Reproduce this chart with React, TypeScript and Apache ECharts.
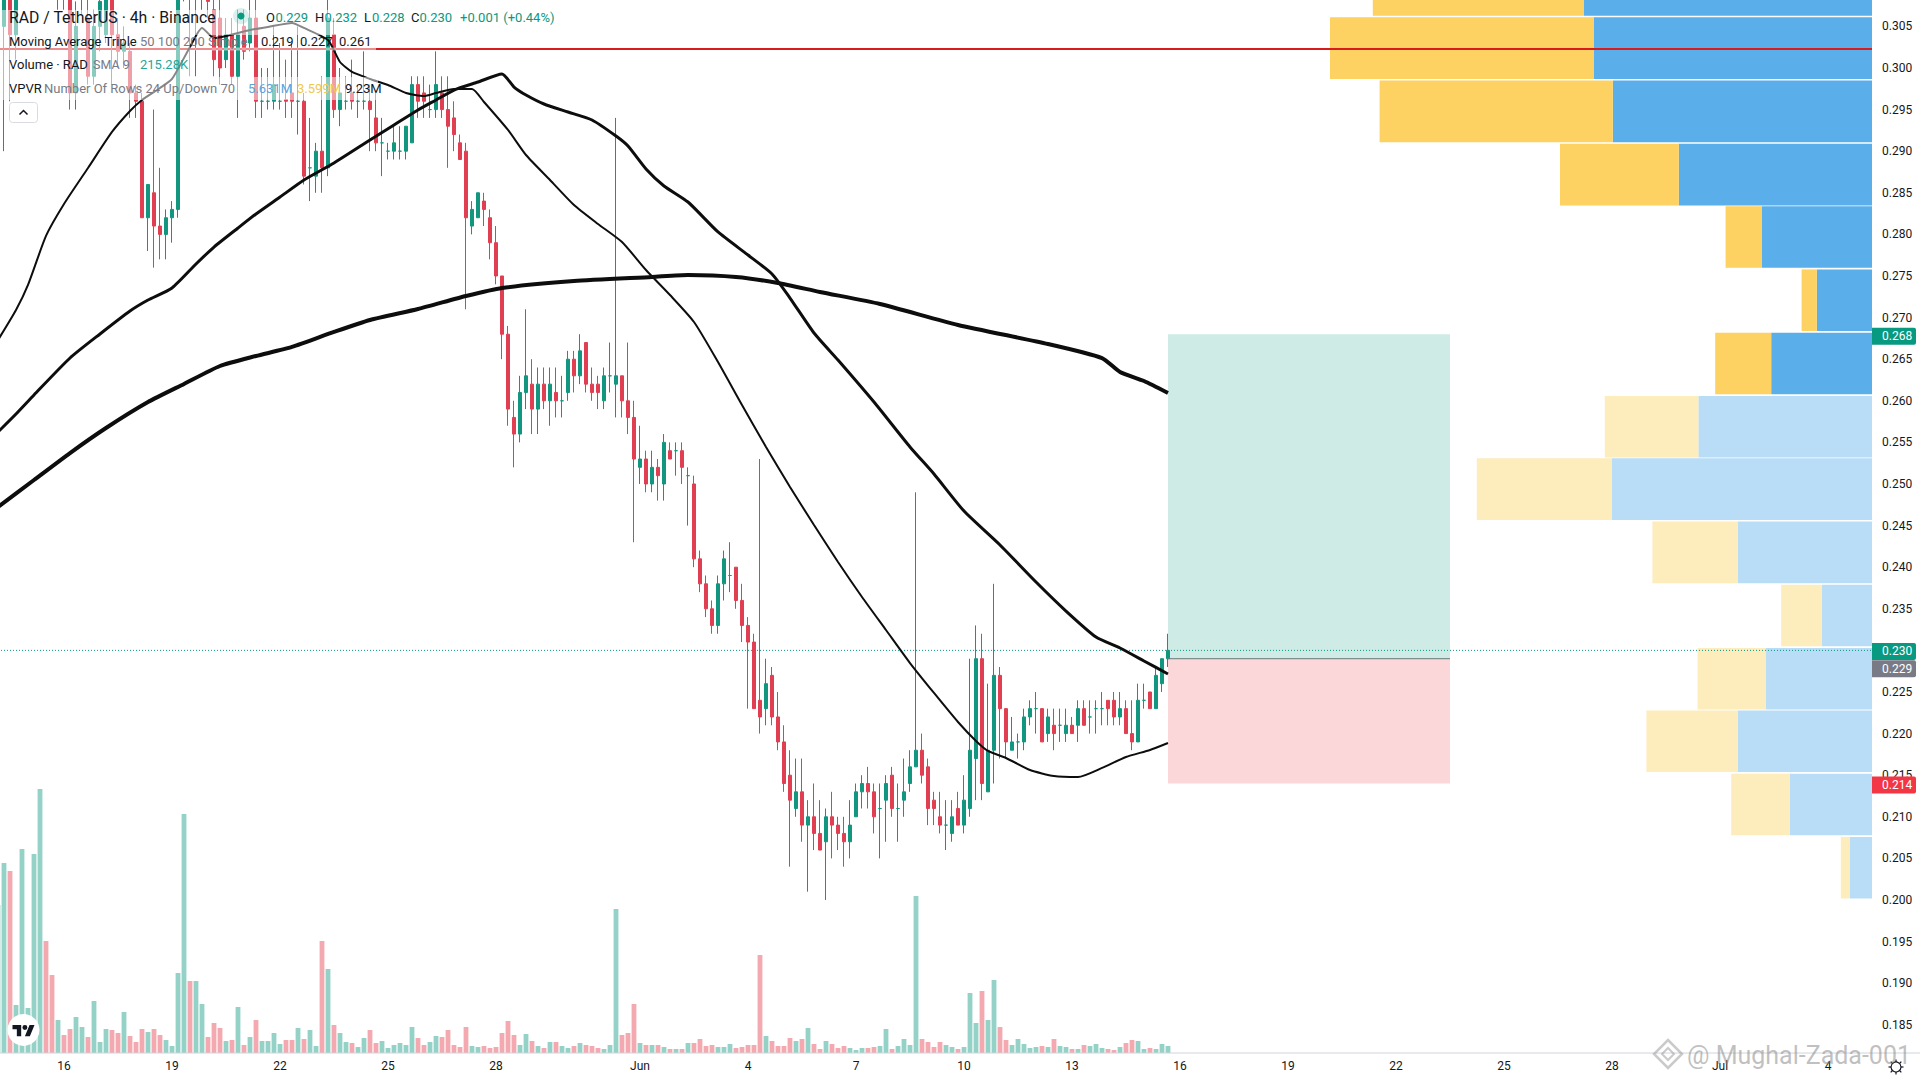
import React, { useEffect, useRef } from "react";
import * as echarts from "echarts";

// Price candles in thousandths of a USDT: [open, close, low, high]
const ohlcMilli: number[][] = [
[286,312,286,315],[305,312,290,316],[312,304,296,314],[304,310,301,312],[310,318,309,320],[318,322,316,324],[322,330,320,332],[330,345,328,350],[345,335,333,347],[335,318,316,337],
[318,325,307,327],[325,315,307,327],[315,297,295,318],[297,305,295,308],[309,312,306.5,314],[306,299,298,309],[299,305,298,307],[305,308,302,310],[304,310,303,312],[310,304,298,312],
[304,302,300,306],[302,303,300,305],[302,297,294,303],[297,296,294,298],[296,282,282,297],[282,286,278,286],[285,281,276,295],[281,280,277,288],[280,282,277,283],[282,283,279,284],
[283,312,282,313],[312,325,308,330],[325,315,299,330],[315,318,299,320],[318,320,307,325],[320,308,306,322],[307,301,299,309],[306,300,298,309],[301,304,300,306],[304,299,298,306],
[299,304,294,307],[305,302,301,307],[303,306,302,309],[306,296,294,309],[296,296,294,300],[296,296,295,300],[296,298,295,305],[296,296,295,303],[296.2,296,294,301],[297,296,294,303],
[296,296,292,305],[296,287,286,297],[288,288,284,294],[287,290,285,291],[290,288,285,299],[288,306,287,309],[304,295,294,306],[295,297,293,300],[296,296,295,299],[297,296,295,301],
[296,296,294,298],[296,296,295,302],[296,295,290,298],[294,291,290,297],[291,291,287,294],[290,290,289,291],[290,291,289,293],[290,290,289,293],[290,293,289,293],[291,298,291,299],
[298,296,294,299],[297,296,294,299],[295,295,294,298],[295,298,294,302],[297,295,294,299],[295,293,288,299],[294,292,290,296],[291,289,289,292],[290,282,271,291],[281,283,280,284],
[282,285,282,285],[284,283,281,285],[282,279,277,283],[279,275,274,281],[275,268,265,275],[268,259,257,269],[258,256,252,260],[256,261,255,263],[261,263,259,271],[262,259,256,265],
[259,262,256,264],[262,260,259,264],[260,262,257,264],[261,260,258,264],[260,260,258,263],[261,265,260,266],[265,263,261,266],[263,266,262,268],[267,262,261,267],[262,261,260,264],
[262,261,259,263],[260,263,259,264],[263,263,261,267],[262,263,258,294],[263,260,258,263],[260,258,256,267],[258,253,243,260],[252,253,250,257],[253,250,249,254],[250,252,249,254],
[252,251,248,253],[250,255,248,256],[254,253,253,255],[254,254,251,255],[254,252,250,255],[251,251,245,252],[250,241,240,251],[241,238,237,242],[238,235,234,239],[235,233,232,236],
[233,238,232,239],[238,241,236,242],[239,239,237,243],[240,236,235,240],[236,233,231,238],[233,231,223,234],[231,223,223,232],[224,222,220,253],[223,226,221,229],[227,222,221,228],
[222,219,218,225],[219,214,213,221],[215,212,204,218],[211,213,210,217],[213,209,207,217],[209,210,201,212],[210,208,206,214],[208,206,206,212],[207,210,200,211],[210,209,205,213],
[209,208,206,210],[208,207,204,210],[207,209,205,212],[210,213,210,214],[213,214,211,215],[214,213,211,216],[213,210,208,214],[211,211,205,214],[212,214,207,215],[215,211,210,216],
[211,211,207,214],[212,213,210,217],[214,216,213,218],[216,218,216,249],[218,215,214,220],[216,211,209,217],[212,211,209,213],[210,209,208,213],[209,209,206,212],[208,210,207,212],
[211,209,209,213],[209,212,208,215],[211,218,210,229],[217,229,212,233],[229,214,212,232],[213,218,213,226],[218,227,214,238],[227,223,217,228],[223,219,217,223],[218,219,218,222],
[219,219,217,220],[219,222,218,223],[222,223,221,224],[223,223,220,225],[223,219,219,223],[220,222,219,223],[221,220,218,223],[221,221,219,223],[220,221,219,223],[221,220,220,222],
[221,223,219,224],[223,221,221,224],[222,222,220,224],[223,223,220,224],[223,223,221,225],[224,223,221,224],[224,222,221,225],[222,223,221,225],[223,220,220,224],[220,219,218,224],
[219,224,219,226],[224,224,223,226],[225,223,223,225],[223,227,223,228],[226,229,225,229],[229,230,228,232],
];

// Volume bar heights, one per candle (25K units)
const volumes: number[] = [
148,190,182,48,204,45,199,264,112,78,33,18,24,36,26,16,52,11,24,23,
20,41,17,11,24,21,24,18,13,7,80,239,72,72,49,16,30,25,12,13,
46,8,16,33,12,12,20,9,13,13,25,14,23,7,112,84,28,20,11,10,
6,15,23,10,12,5,8,10,8,26,15,8,11,17,16,23,8,6,26,7,
6,7,5,6,20,32,18,8,19,12,7,5,11,11,7,5,7,10,8,7,
5,4,8,144,18,20,49,10,8,8,8,6,4,4,4,10,10,14,7,8,
6,6,9,5,6,8,8,98,17,12,7,7,15,12,14,25,9,4,12,9,
5,7,5,3,5,5,6,7,24,4,7,14,8,157,14,11,6,11,8,6,
4,6,60,30,62,33,73,26,13,8,14,9,5,6,7,6,14,7,6,4,
4,8,7,9,5,4,3,6,10,13,12,4,5,4,9,7,
];

// Moving averages: [candle index, price]
const ma50: number[][] = [
[0,0.2673],[3,0.27091],[5,0.27392],[8,0.27981],[11,0.28365],[15,0.28798],[19,0.29231],[22,0.29483],[24,0.29615],[27,0.29759],[29,0.29868],[32,0.30252],[34,0.30481],[36,0.3036],[38,0.30385],[42,0.30457],[45,0.30493],[49,0.30541],[51,0.30481],[55,0.30336],[57,0.30072],[59,0.29952],[62,0.29868],[65,0.29795],[68,0.29699],[71,0.29663],[73,0.29699],[76,0.29747],[79,0.29747],[81,0.29591],[85,0.29255],[88,0.28954],[92,0.28654],[96,0.28353],[100,0.28125],[104,0.27908],[108,0.27572],[112,0.27271],[116,0.26947],[120,0.26466],[124,0.25949],[128,0.25445],[132,0.24964],[136,0.24507],[140,0.24062],[144,0.23642],[148,0.23245],[152,0.22848],[156,0.22488],[160,0.22139],[163,0.21911],[165,0.21791],[168,0.21707],[172,0.21562],[176,0.2149],[180,0.21478],[184,0.21587],[188,0.21719],[192,0.21803],[195,0.21887],
];
const ma100: number[][] = [
[0,0.25625],[3,0.25841],[6,0.2607],[12,0.26514],[17,0.26803],[22,0.27079],[25,0.27211],[29,0.27356],[33,0.27644],[36,0.27848],[40,0.28077],[43,0.28245],[47,0.28449],[51,0.28654],[56,0.28858],[62,0.29134],[66,0.29315],[70,0.29495],[73,0.29615],[76,0.29735],[80,0.29831],[84,0.29928],[86,0.29771],[88,0.29675],[91,0.29567],[95,0.29471],[99,0.29375],[103,0.29182],[105,0.29062],[108,0.28786],[111,0.28582],[115,0.28389],[120,0.28029],[125,0.27752],[129,0.27524],[132,0.27235],[136,0.26815],[140,0.2649],[146,0.25985],[152,0.25445],[156,0.2512],[161,0.24675],[167,0.24267],[173,0.23822],[178,0.23473],[183,0.23161],[187,0.23029],[191,0.22873],[195,0.22716],
];
const ma200: number[][] = [
[0,0.24723],[6,0.25048],[12,0.25372],[18,0.25673],[25,0.25985],[31,0.26202],[37,0.26418],[43,0.26538],[49,0.26647],[56,0.26827],[62,0.26971],[70,0.27103],[78,0.27259],[84,0.27356],[96,0.2744],[109,0.27488],[115,0.27512],[123,0.27488],[130,0.27416],[137,0.27308],[147,0.27163],[160,0.26911],[175,0.26683],[184,0.26514],[187,0.26346],[191,0.26238],[195,0.26094],
];

// Volume profile rows, bottom to top: lower price, up volume (K), down volume (K)
const vpLow: number[] = [0.2001,0.2077,0.2153,0.2228,0.2304,0.238,0.2456,0.2531,0.2607,0.2683,0.2759,0.2834,0.291,0.2986,0.3062];
const vpUp: number[] = [55,206,336,265,126,336,650,434,252,138,275,483,648,695,720];
const vpDown: number[] = [23,146,228,171,101,213,338,234,140,38,91,297,583,660,528];
const vpStep = 0.00757;
const vpStrongFrom = 8;

// x axis tick positions and texts
const xTickIndex: number[] = [11,29,47,65,83,107,125,143,161,179,197,215,233,251,269,287,305];
const xTickText: string[] = ["16","19","22","25","28","Jun","4","7","10","13","16","19","22","25","28","Jul","4"];
const priceTicks: number[] = [0.185,0.19,0.195,0.2,0.205,0.21,0.215,0.22,0.225,0.23,0.235,0.24,0.245,0.25,0.255,0.26,0.265,0.27,0.275,0.28,0.285,0.29,0.295,0.3,0.305];

// Long position tool
const posStart = 195, posEnd = 242, posEntry = 0.229, posTarget = 0.268, posStop = 0.214;
const lastPrice = 0.23, redLevel = 0.30228;
const priceTags = [
  { price: 0.268, text: "0.268", color: "#089981", dy: 2 },
  { price: 0.23, text: "0.230", color: "#089981", dy: 1 },
  { price: 0.229, text: "0.229", color: "#787B86", dy: 10 },
  { price: 0.214, text: "0.214", color: "#F23645", dy: 1.5 },
];

const FONT = "Roboto, sans-serif";
const UP = "#12967F", DOWN = "#DF3F50", VOL_UP = "#94D1C6", VOL_DOWN = "#F3A9AF";
const DARK = "#131722", GRAY = "#787B86", TEAL = "#089981";

const SHIFT = 5; // the chart div starts 5px left of the page so that the first candle is cut off as in the picture
const GRID_WIDTH = 1878, GRID_HEIGHT = 1053;
const PRICE_MIN = 0.18161, PRICE_MAX = 0.30817;
const SLOTS = 313;

function legendText(text: string, x: number, y: number, fill: string, size = 13) {
  return { type: "text", z: 60, silent: true, style: { text, x, y, fill, font: `${size}px ${FONT}`, textVerticalAlign: "middle" } };
}

export default function App() {
  const ref = useRef<HTMLDivElement>(null);
  useEffect(() => {
    echarts.graphic.registerShape("tvlogo", echarts.graphic.extendPath(
      "M14 22H7V11H0V4h14v18zM28 22h-8l7.5-18h8L28 22zM24 8a4 4 0 1 1-8 0a4 4 0 1 1 8 0z", {}) as any);
    const chart = echarts.init(ref.current!, undefined, { renderer: "svg" });
    const categories = Array.from({ length: SLOTS }, (_, i) => {
      const k = xTickIndex.indexOf(i);
      return k >= 0 ? xTickText[k] : "";
    });
    const candleData = ohlcMilli.map(([o, c, l, h]) => [o / 1000, c / 1000, l / 1000, h / 1000]);
    const volData = volumes.map((v, i) => ({
      value: v,
      itemStyle: { color: ohlcMilli[i][1] >= ohlcMilli[i][0] ? VOL_UP : VOL_DOWN },
    }));
    const vpData = vpLow.map((low, i) => [low, vpUp[i], vpDown[i], i >= vpStrongFrom ? 1 : 0]);
    const vpAxisMax = GRID_WIDTH * 2.5;

    const option: any = {
      animation: false,
      backgroundColor: "#ffffff",
      grid: { left: 0, top: 0, width: GRID_WIDTH, height: GRID_HEIGHT, containLabel: false },
      tooltip: { show: false },
      xAxis: [
        {
          type: "category", data: categories, boundaryGap: true,
          axisLine: { show: false }, axisTick: { show: false }, splitLine: { show: false },
          axisLabel: {
            interval: (i: number) => xTickIndex.includes(i),
            color: DARK, fontFamily: FONT, fontSize: 12, margin: 7, hideOverlap: false,
          },
        },
        { type: "value", min: 0, max: vpAxisMax, inverse: true, show: false, splitLine: { show: false } },
      ],
      yAxis: [
        {
          type: "value", position: "right", min: PRICE_MIN, max: PRICE_MAX, scale: true,
          axisLine: { show: false }, axisTick: { show: false }, splitLine: { show: false },
          axisLabel: {
            customValues: priceTicks, color: DARK, fontFamily: FONT, fontSize: 12, margin: 9,
            formatter: (v: number) => v.toFixed(3),
          },
        },
        { type: "value", min: 0, max: GRID_HEIGHT, show: false, splitLine: { show: false } },
      ],
      series: [
        {
          type: "custom", name: "VPVR", z: 0, xAxisIndex: 1, yAxisIndex: 0, data: vpData, silent: true,
          renderItem: (_: any, api: any) => {
            const low = api.value(0), up = api.value(1), down = api.value(2), strong = api.value(3);
            const y0 = api.coord([0, low])[1] - 0.7;
            const y1 = api.coord([0, low + vpStep])[1] + 0.7;
            const xR = api.coord([2.5, low])[0];
            const xM = api.coord([2.5 + up, low])[0];
            const xL = api.coord([2.5 + up + down, low])[0];
            return {
              type: "group",
              children: [
                { type: "rect", shape: { x: xM, y: y1, width: xR - xM, height: y0 - y1 }, style: { fill: strong ? "#5AAEE9" : "#B9DDF6" } },
                { type: "rect", shape: { x: xL, y: y1, width: xM - xL, height: y0 - y1 }, style: { fill: strong ? "#FDD162" : "#FDECBC" } },
              ],
            };
          },
        },
        {
          type: "custom", name: "Levels", z: 1, data: [[redLevel, 0], [lastPrice, 1]], silent: true,
          renderItem: (params: any, api: any) => {
            const sys = params.coordSys;
            const y = api.coord([0, api.value(0)])[1];
            const dotted = api.value(1) === 1;
            return {
              type: "line",
              shape: { x1: sys.x, y1: y, x2: sys.x + sys.width - 1, y2: y },
              style: dotted
                ? { stroke: TEAL, lineWidth: 1, lineDash: [1, 2] }
                : { stroke: "#D81B1B", lineWidth: 2 },
            };
          },
        },
        {
          type: "bar", name: "Volume", z: 2, yAxisIndex: 1, data: volData, barWidth: 4.8, silent: true,
        },
        {
          type: "candlestick", name: "RAD", z: 2, data: candleData, barWidth: 4, silent: true,
          itemStyle: {
            color: UP, color0: DOWN, borderColor: UP, borderColor0: DOWN, borderColorDoji: UP, borderWidth: 1,
          },
        },
        { type: "line", name: "MA50", z: 3, data: ma50, smooth: 0.2, showSymbol: false, silent: true, lineStyle: { color: "#0d0d0d", width: 2 } },
        { type: "line", name: "MA100", z: 3, data: ma100, smooth: 0.2, showSymbol: false, silent: true, lineStyle: { color: "#0d0d0d", width: 3 } },
        { type: "line", name: "MA200", z: 3, data: ma200, smooth: 0.2, showSymbol: false, silent: true, lineStyle: { color: "#0d0d0d", width: 4 } },
        {
          type: "custom", name: "Position", z: 5, silent: true,
          data: [[posStart, posEnd, posTarget, posEntry, 0], [posStart, posEnd, posEntry, posStop, 1]],
          renderItem: (_: any, api: any) => {
            const a = api.coord([api.value(0), api.value(2)]);
            const b = api.coord([api.value(1), api.value(3)]);
            const profit = api.value(4) === 0;
            return {
              type: "group",
              children: [
                { type: "rect", shape: { x: a[0], y: a[1], width: b[0] - a[0], height: b[1] - a[1] }, style: { fill: profit ? "rgba(8,153,129,0.2)" : "rgba(242,54,69,0.2)" } },
                ...(profit ? [{ type: "line", shape: { x1: a[0], y1: b[1], x2: b[0], y2: b[1] }, style: { stroke: "#5F7F7A", lineWidth: 1 } }] : []),
              ],
            };
          },
        },
        {
          type: "custom", name: "Price tags", z: 60, silent: true,
          data: priceTags.map((t, i) => [t.price, i]),
          renderItem: (params: any, api: any) => {
            const tag = priceTags[api.value(1)];
            const sys = params.coordSys;
            const y = api.coord([0, api.value(0)])[1] + tag.dy;
            const x = sys.x + sys.width - 1;
            return {
              type: "group",
              children: [
                { type: "rect", shape: { x, y: y - 8.5, width: 44, height: 17, r: [0, 2, 2, 0] }, style: { fill: tag.color } },
                { type: "text", style: { text: tag.text, x: x + 10, y, fill: "#ffffff", font: `12px ${FONT}`, textVerticalAlign: "middle" } },
              ],
            };
          },
        },
      ],
      graphic: [{
        type: "group", x: SHIFT, y: 0,
        children: [
          // translucent backgrounds behind the legend rows
          { type: "rect", z: 50, silent: true, shape: { x: -5, y: 10, width: 195, height: 90 }, style: { fill: "rgba(255,255,255,0.5)" } },
          { type: "rect", z: 50, silent: true, shape: { x: 190, y: 10, width: 370, height: 25 }, style: { fill: "rgba(255,255,255,0.5)" } },
          { type: "rect", z: 50, silent: true, shape: { x: 190, y: 77, width: 188, height: 23 }, style: { fill: "rgba(255,255,255,0.5)" } },
          { type: "rect", z: 50, silent: true, shape: { x: 190, y: 47.5, width: 186, height: 3 }, style: { fill: "rgba(255,255,255,0.5)" } },
          legendText("RAD / TetherUS · 4h · Binance", 9, 17, DARK, 15.8),
          { type: "circle", z: 60, silent: true, shape: { cx: 241, cy: 16, r: 8 }, style: { fill: "rgba(8,153,129,0.15)" } },
          { type: "circle", z: 61, silent: true, shape: { cx: 241, cy: 16, r: 3.5 }, style: { fill: TEAL } },
          legendText("O", 266, 17, DARK), legendText("0.229", 275.5, 17, TEAL),
          legendText("H", 315, 17, DARK), legendText("0.232", 324.5, 17, TEAL),
          legendText("L", 364, 17, DARK), legendText("0.228", 372, 17, TEAL),
          legendText("C", 411, 17, DARK), legendText("0.230", 419.5, 17, TEAL),
          legendText("+0.001 (+0.44%)", 460, 17, TEAL),
          legendText("Moving Average Triple", 9, 41, DARK),
          legendText("50 100 200 Simple", 140, 41, GRAY),
          legendText("0.219", 261, 41, DARK), legendText("0.227", 300, 41, DARK), legendText("0.261", 339, 41, DARK),
          legendText("Volume · RAD", 9, 64.5, DARK),
          legendText("SMA 9", 93, 64.5, GRAY, 12.5),
          legendText("215.28K", 140, 64.5, "#26A69A"),
          legendText("VPVR", 9, 88, DARK),
          legendText("Number Of Rows 24 Up/Down 70", 44, 88, GRAY),
          legendText("5.631M", 248, 88, "#5BA4DC"), legendText("3.599M", 297, 88, "#F0C84E"), legendText("9.23M", 345, 88, DARK),
          { type: "rect", z: 60, silent: true, shape: { x: 9.5, y: 102.5, width: 28, height: 20, r: 3 }, style: { fill: "#ffffff", stroke: "#D9DBE3", lineWidth: 1 } },
          { type: "polyline", z: 61, silent: true, shape: { points: [[19.5, 114.5], [23.5, 110.5], [27.5, 114.5]] }, style: { stroke: DARK, lineWidth: 1.5, fill: "none" } },
          // time axis line
          { type: "line", z: 4, silent: true, shape: { x1: -5, y1: 1053, x2: 1920, y2: 1053 }, style: { stroke: "#D1D4DC", lineWidth: 1 } },
          // TradingView badge
          { type: "circle", z: 60, silent: true, shape: { cx: 23.5, cy: 1030, r: 16 }, style: { fill: "#ffffff" } },
          { type: "tvlogo", z: 61, silent: true, x: 12.5, y: 1022.5, scaleX: 0.62, scaleY: 0.62, style: { fill: "#131722" } },
          // settings icon
          { type: "circle", z: 60, silent: true, shape: { cx: 1896, cy: 1067, r: 5 }, style: { fill: "#ffffff", stroke: DARK, lineWidth: 1.2 } },
          ...[0, 1, 2, 3, 4, 5, 6, 7].map((k) => ({
            type: "line", z: 60, silent: true,
            shape: {
              x1: 1896 + 5 * Math.cos((k * Math.PI) / 4), y1: 1067 + 5 * Math.sin((k * Math.PI) / 4),
              x2: 1896 + 7.5 * Math.cos((k * Math.PI) / 4), y2: 1067 + 7.5 * Math.sin((k * Math.PI) / 4),
            },
            style: { stroke: DARK, lineWidth: 1.2 },
          })),
          // watermark
          { type: "polygon", z: 70, silent: true, shape: { points: [[1668, 1040], [1682, 1054], [1668, 1068], [1654, 1054]] }, style: { fill: "none", stroke: "rgba(150,150,150,0.5)", lineWidth: 2.5 } },
          { type: "polygon", z: 70, silent: true, shape: { points: [[1668, 1048], [1674, 1054], [1668, 1060], [1662, 1054]] }, style: { fill: "none", stroke: "rgba(150,150,150,0.5)", lineWidth: 2 } },
          { type: "text", z: 70, silent: true, style: { text: "@ Mughal-Zada-001", x: 1687, y: 1055, fill: "rgba(130,130,130,0.5)", font: `25px ${FONT}`, textVerticalAlign: "middle" } },
        ],
      }],
    };
    chart.setOption(option);
    return () => chart.dispose();
  }, []);
  return <div ref={ref} style={{ position: "absolute", left: -SHIFT, top: 0, width: 1920 + SHIFT, height: 1080, background: "#fff" }} />;
}
